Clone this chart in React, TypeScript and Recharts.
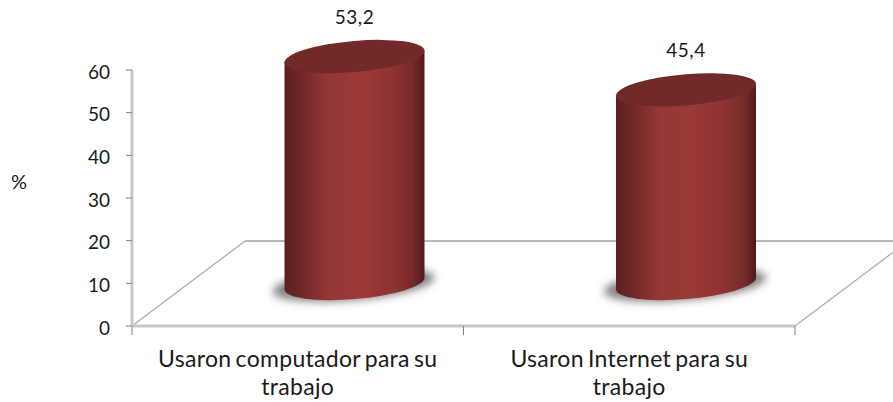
import { BarChart, Bar, XAxis, YAxis, LabelList, usePlotArea } from "recharts";

// values as printed over the cylinders
const categories = ["Usaron computador para su trabajo", "Usaron Internet para su trabajo"];
const percentages = [53.2, 45.4];
const yTicks = [0, 10, 20, 30, 40, 50, 60];

const rows = categories.map((name, i) => ({ name, value: percentages[i] }));

const FONT = "Lato, 'Open Sans', sans-serif";
const AXIS_GRAY = "#c6c6c6";
const TEXT = "#1a1a1a";

// fake 3D floor: the back wall sits this far up and right of the front edge
const DEPTH_X = 113;
const DEPTH_Y = 85;
const SHEAR = -0.083;
const RY = 15.6;

function Floor() {
  const plot = usePlotArea();
  if (!plot) return null;
  const left = plot.x;
  const right = plot.x + plot.width;
  const base = plot.y + plot.height;
  const step = plot.width / categories.length;
  return (
    <g>
      <line x1={left + DEPTH_X} y1={base - DEPTH_Y} x2={893} y2={base - DEPTH_Y} stroke="#b8b8b8" strokeWidth={2} />
      <line x1={left} y1={base} x2={left + DEPTH_X} y2={base - DEPTH_Y} stroke="#adadad" strokeWidth={1.3} />
      <line x1={right} y1={base} x2={right + DEPTH_X} y2={base - DEPTH_Y} stroke="#adadad" strokeWidth={1.3} />
      <line x1={left} y1={base} x2={right} y2={base} stroke={AXIS_GRAY} strokeWidth={3} />
      {categories.concat("").map((_, i) => (
        <line key={i} x1={left + i * step} y1={base} x2={left + i * step} y2={base + 9} stroke="#808080" />
      ))}
    </g>
  );
}

function Cylinder(props: any) {
  const { x, y, width, height } = props;
  const half = width / 2;
  const cx = x + half + DEPTH_X / 2;
  const top = y - DEPTH_Y / 2;
  return (
    <g>
      <ellipse
        transform={`matrix(1 ${SHEAR} 0 1 ${cx - 1} ${top + height + 1})`}
        rx={half + 11}
        ry={RY}
        fill="#808080"
        filter="url(#cylShadow)"
      />
      <g transform={`matrix(1 ${SHEAR} 0 1 ${cx} ${top})`}>
        <path
          d={`M ${-half} 0 L ${-half} ${height} A ${half} ${RY} 0 0 0 ${half} ${height} L ${half} 0 Z`}
          fill="url(#cylBody)"
        />
        <ellipse rx={half} ry={RY} fill="#722a28" />
      </g>
    </g>
  );
}

function ValueLabel(props: any) {
  const { x, y, width, value } = props;
  return (
    <text
      x={x + width / 2 + DEPTH_X / 2}
      y={y - DEPTH_Y / 2 - RY - 17}
      textAnchor="middle"
      fontFamily={FONT}
      fontSize={19}
      letterSpacing={0.5}
      fill={TEXT}
    >
      {String(value).replace(".", ",")}
    </text>
  );
}

function CategoryTick(props: any) {
  const { x, y, payload } = props;
  const words = String(payload.value).split(" ");
  const last = words.pop();
  return (
    <text x={x} textAnchor="middle" fontFamily={FONT} fontSize={23} letterSpacing={0.3} wordSpacing={-2} fill={TEXT}>
      <tspan x={x} y={y + 33}>{words.join(" ")}</tspan>
      <tspan x={x} y={y + 61}>{last}</tspan>
    </text>
  );
}

export default function App() {
  return (
    <div style={{ position: "absolute", left: 0, top: 0, width: 893, height: 402 }}>
      <BarChart width={893} height={402} data={rows} margin={{ top: 70, right: 98, bottom: 6, left: 0 }}>
        <defs>
          <linearGradient id="cylBody" x1="0" y1="0" x2="1" y2="0">
            <stop offset="0" stopColor="#5c1f1f" />
            <stop offset="0.12" stopColor="#702826" />
            <stop offset="0.3" stopColor="#933736" />
            <stop offset="0.55" stopColor="#9b3938" />
            <stop offset="0.78" stopColor="#8c3331" />
            <stop offset="0.92" stopColor="#752a29" />
            <stop offset="1" stopColor="#4f1a1a" />
          </linearGradient>
          <filter id="cylShadow" x="-20%" y="-50%" width="140%" height="200%">
            <feGaussianBlur stdDeviation="4" />
          </filter>
        </defs>
        <Floor />
        <XAxis
          dataKey="name"
          axisLine={false}
          tickLine={false}
          interval={0}
          height={70}
          tick={<CategoryTick />}
        />
        <YAxis
          domain={[0, 60]}
          ticks={yTicks}
          width={132}
          interval={0}
          axisLine={{ stroke: AXIS_GRAY, strokeWidth: 3 }}
          tickLine={{ stroke: "#808080" }}
          tickSize={6}
          tickMargin={16}
          tick={{ fontFamily: FONT, fontSize: 19, fill: TEXT, dy: 2 }}
          label={{ value: "%", position: "insideLeft", offset: 11, fontFamily: FONT, fontSize: 20, fill: TEXT, dy: -16 }}
        />
        <Bar dataKey="value" barSize={140} shape={<Cylinder />} isAnimationActive={false}>
          <LabelList dataKey="value" content={<ValueLabel />} />
        </Bar>
      </BarChart>
    </div>
  );
}
